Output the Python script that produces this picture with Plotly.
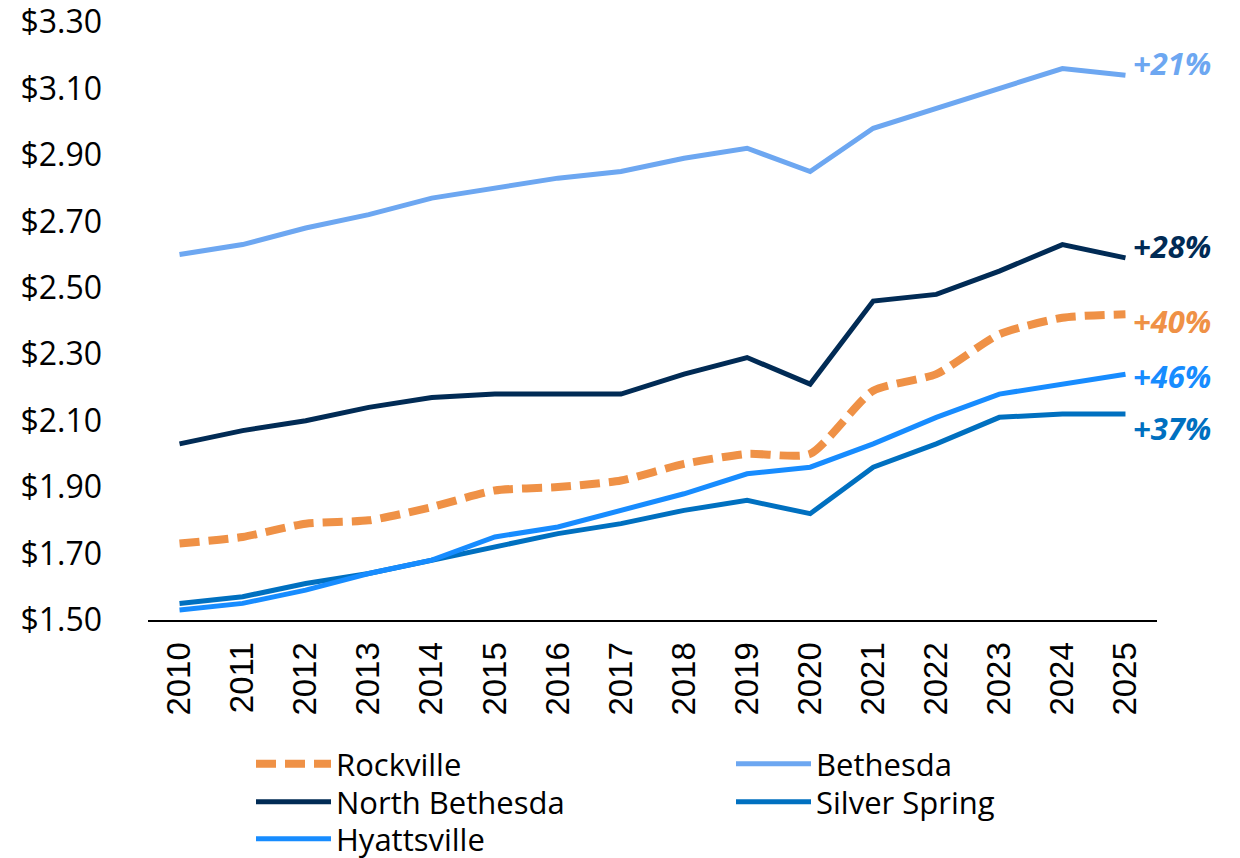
import plotly.graph_objects as go

years = list(range(2010, 2026))
rockville = [1.73, 1.75, 1.79, 1.80, 1.84, 1.89, 1.90, 1.92, 1.97, 2.00, 2.00, 2.19, 2.24, 2.36, 2.41, 2.42]
bethesda = [2.60, 2.63, 2.68, 2.72, 2.77, 2.80, 2.83, 2.85, 2.89, 2.92, 2.85, 2.98, 3.04, 3.10, 3.16, 3.14]
north_bethesda = [2.03, 2.07, 2.10, 2.14, 2.17, 2.18, 2.18, 2.18, 2.24, 2.29, 2.21, 2.46, 2.48, 2.55, 2.63, 2.59]
silver_spring = [1.55, 1.57, 1.61, 1.64, 1.68, 1.72, 1.76, 1.79, 1.83, 1.86, 1.82, 1.96, 2.03, 2.11, 2.12, 2.12]
hyattsville = [1.53, 1.55, 1.59, 1.64, 1.68, 1.75, 1.78, 1.83, 1.88, 1.94, 1.96, 2.03, 2.11, 2.18, 2.21, 2.24]
tick_vals = [1.50, 1.70, 1.90, 2.10, 2.30, 2.50, 2.70, 2.90, 3.10, 3.30]
tick_text = ["$1.50", "$1.70", "$1.90", "$2.10", "$2.30", "$2.50", "$2.70", "$2.90", "$3.10", "$3.30"]
growth_labels = {"Bethesda": "+21%", "North Bethesda": "+28%", "Rockville": "+40%",
                 "Hyattsville": "+46%", "Silver Spring": "+37%"}

# name, values, color, dash, width, shape
series = [
    ("Rockville", rockville, "#EF9146", "20px,9px", 8, "spline"),
    ("Bethesda", bethesda, "#6DA7F1", "solid", 5, "linear"),
    ("North Bethesda", north_bethesda, "#012B55", "solid", 5, "linear"),
    ("Silver Spring", silver_spring, "#0070C0", "solid", 5, "linear"),
    ("Hyattsville", hyattsville, "#178CFF", "solid", 5, "linear"),
]
label_yshift = {"Bethesda": 12, "North Bethesda": 12, "Rockville": -7, "Hyattsville": -2, "Silver Spring": -14}

# legend grid: (column left px, row top px) in figure coordinates
legend_cols = [243, 723]
legend_rows = [729, 767, 804]
legend_slots = {"Rockville": (0, 0), "Bethesda": (1, 0), "North Bethesda": (0, 1),
                "Silver Spring": (1, 1), "Hyattsville": (0, 2)}

W, H = 1240, 858
fig = go.Figure()
font = "Open Sans"
layout_legends = {}
for i, (name, vals, color, dash, width, shape) in enumerate(series):
    leg = "legend" if i == 0 else "legend%d" % (i + 1)
    fig.add_trace(go.Scatter(
        x=years, y=vals, name=name, mode="lines", legend=leg,
        line=dict(color=color, width=width, dash=dash, shape=shape,
                  smoothing=0.6 if shape == "spline" else None),
    ))
    fig.add_annotation(
        x=years[-1], y=vals[-1], xref="x", yref="y", text="<b><i>%s</i></b>" % growth_labels[name],
        showarrow=False, xanchor="left", yanchor="middle", xshift=6, yshift=label_yshift[name],
        font=dict(family=font, size=31, color=color),
    )
    col, row = legend_slots[name]
    layout_legends[leg] = dict(
        orientation="v", xref="container", yref="container", xanchor="left", yanchor="top",
        x=legend_cols[col] / W, y=1 - legend_rows[row] / H,
        itemwidth=75, bgcolor="rgba(0,0,0,0)",
        font=dict(family=font, size=31, color="#000000"),
    )

fig.update_layout(
    width=W, height=H,
    margin=dict(l=140, r=91, t=14, b=246, autoexpand=False),
    plot_bgcolor="white", paper_bgcolor="white",
    font=dict(family=font, size=32, color="#000000"),
    showlegend=True,
    **layout_legends,
)
fig.update_xaxes(
    range=[2009.5, 2025.5], tickmode="array", tickvals=years, ticktext=[str(y) for y in years],
    tickangle=-90, showgrid=False, zeroline=False, showline=True, linecolor="#000000",
    linewidth=2, ticks="", tickfont=dict(family="Liberation Sans", size=33),
    ticklabelstandoff=7, ticklabeloverflow="allow",
)
fig.update_yaxes(
    range=[1.50, 3.30], tickmode="array", tickvals=tick_vals, ticktext=tick_text,
    showgrid=False, zeroline=False, showline=False, ticks="", tickfont=dict(family=font, size=32),
    ticklabelstandoff=45, ticklabeloverflow="allow",
)

fig.write_html("out.html")
